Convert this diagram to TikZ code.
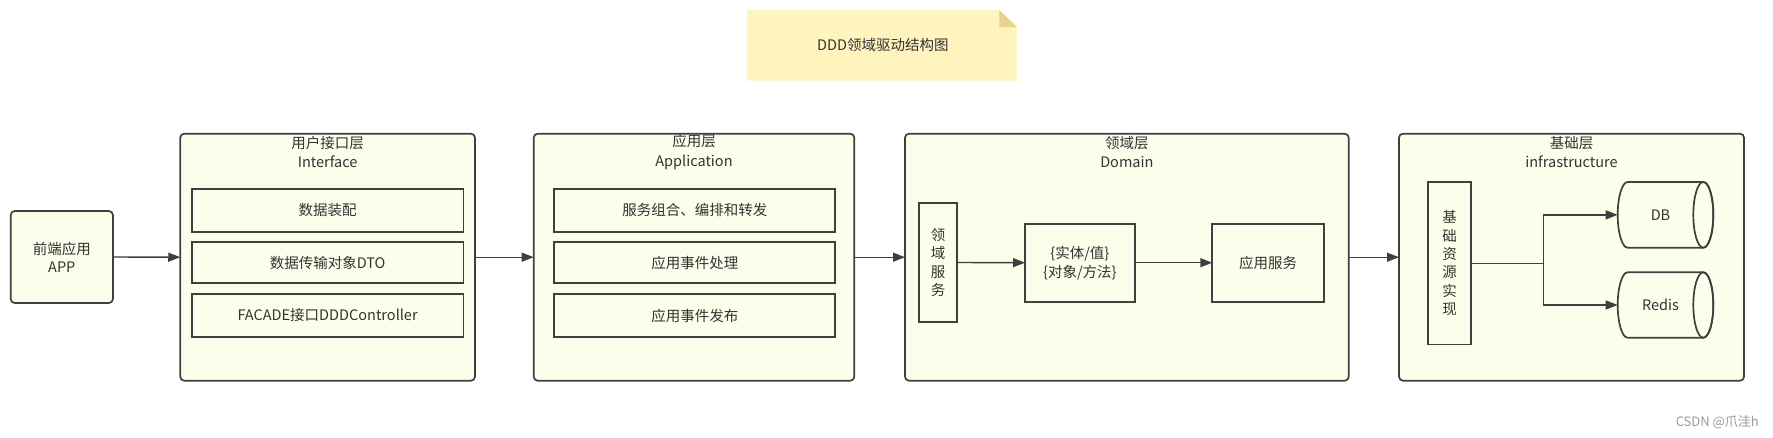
\documentclass[tikz,border=0pt]{standalone}
\usepackage{fontspec}
\setmainfont{Noto Sans CJK SC}
\usetikzlibrary{arrows.meta}
\definecolor{bord}{HTML}{3F3F3F}
\definecolor{ivory}{HTML}{FDFDEC}
\definecolor{txt}{HTML}{333333}
\definecolor{notefill}{HTML}{FFF4BD}
\definecolor{notefold}{HTML}{E6D28C}
\definecolor{wm}{HTML}{9A9A9A}
\begin{document}
\begin{tikzpicture}[x=1pt,y=-1pt,
  every node/.style={text=txt, font=\fontsize{14.5}{18.3}\selectfont, inner sep=0pt, outer sep=0pt, align=center},
  container/.style={draw=bord, fill=ivory, line width=1.7pt, rounded corners=4pt, rectangle},
  inbox/.style={draw=bord, fill=ivory, line width=1.7pt, rectangle},
  ttl/.style={font=\fontsize{14.5}{19.4}\selectfont},
  conn/.style={draw=bord, line width=1.4pt},
  arr/.style={conn, -{Triangle[length=12pt,width=9pt]}},
  cylline/.style={draw=bord, fill=ivory, line width=1.7pt}
]
\useasboundingbox (0,0) rectangle (1773,437);

% title note
\fill[notefill] (747,10) -- (999.3,10) -- (1017,27) -- (1017,80.7) -- (747,80.7) -- cycle;
\fill[notefold] (999.3,10) -- (1017,27) -- (999.3,27) -- cycle;
\node (note) at (882.8,45.5) {DDD领域驱动结构图};

% front-end app
\node[container, minimum width=102.2pt, minimum height=92pt, font=\fontsize{14.5}{17.7}\selectfont] (app) at (61.8,257) {前端应用\\APP};

% Interface layer
\node[container, minimum width=294.7pt, minimum height=247pt] (ifc) at (327.6,257.2) {};
\node[ttl] (ifct) at (327.6,152) {用户接口层\\Interface};
\node[inbox, minimum width=271.7pt, minimum height=43.3pt] (i1) at (327.6,210.3) {数据装配};
\node[inbox, minimum width=271.7pt, minimum height=41.6pt] (i2) at (327.6,262.5) {数据传输对象DTO};
\node[inbox, minimum width=271.7pt, minimum height=43.6pt] (i3) at (327.6,315.5) {FACADE接口DDDController};

% Application layer
\node[container, minimum width=320.6pt, minimum height=247pt] (apl) at (694,257.2) {};
\node[ttl] (aplt) at (694,152) {应用层\\Application};
\node[inbox, minimum width=281pt, minimum height=43.3pt] (a1) at (694.8,210.3) {服务组合、编排和转发};
\node[inbox, minimum width=281pt, minimum height=41.6pt] (a2) at (694.8,262.5) {应用事件处理};
\node[inbox, minimum width=281pt, minimum height=43.6pt] (a3) at (694.8,315.5) {应用事件发布};

% Domain layer
\node[container, minimum width=443.7pt, minimum height=247pt] (dom) at (1126.85,257.2) {};
\node[ttl] (domt) at (1126.85,152) {领域层\\Domain};
\node[inbox, minimum width=38pt, minimum height=119pt] (dsvc) at (938,262.5) {领\\域\\服\\务};
\node[inbox, minimum width=109.7pt, minimum height=78pt, font=\fontsize{14.5}{19}\selectfont] (ent) at (1079.85,262.7) {\{实体/值\}\\\{对象/方法\}};
\node[inbox, minimum width=111.4pt, minimum height=78pt] (asvc) at (1268,262.7) {应用服务};

% Infrastructure layer
\node[container, minimum width=345pt, minimum height=247pt] (inf) at (1571.5,257.2) {};
\node[ttl] (inft) at (1571.5,152) {基础层\\infrastructure};
\node[inbox, minimum width=42.7pt, minimum height=162.3pt] (res) at (1449.65,263.2) {基\\础\\资\\源\\实\\现};

% cylinders (DB, Redis)
\path[cylline] (1627.7,182) arc[start angle=270, end angle=90, x radius=10, y radius=32.85]
  -- (1703.3,247.7) arc[start angle=90, end angle=-90, x radius=10, y radius=32.85] -- cycle;
\draw[draw=bord, line width=1.7pt] (1703.3,214.85) ellipse[x radius=10, y radius=32.85];
\node[minimum width=85.6pt, minimum height=65.7pt] (db) at (1660.5,214.85) {DB};

\path[cylline] (1627.7,272.3) arc[start angle=270, end angle=90, x radius=10, y radius=32.7]
  -- (1703.3,337.7) arc[start angle=90, end angle=-90, x radius=10, y radius=32.7] -- cycle;
\draw[draw=bord, line width=1.7pt] (1703.3,305) ellipse[x radius=10, y radius=32.7];
\node[minimum width=85.6pt, minimum height=65.4pt] (redis) at (1660.5,305) {Redis};

% connectors
\draw[arr] (app.east) -- (ifc.west);
\draw[arr] (ifc.east) -- (apl.west);
\draw[arr] (apl.east) -- (dom.west);
\draw[arr] (dom.east) -- (inf.west);
\draw[arr] (dsvc.east) -- (ent.west);
\draw[arr] (ent.east) -- (asvc.west);
\draw[conn] (res.east) -- ++(72.7,0) coordinate (split);
\draw[arr] (split) |- (db.west);
\draw[arr] (split) |- (redis.west);

% watermark
\node[text=wm, font=\fontsize{13}{15}\selectfont] (wmk) at (1717.3,421.7) {CSDN @爪洼h};
\end{tikzpicture}
\end{document}
